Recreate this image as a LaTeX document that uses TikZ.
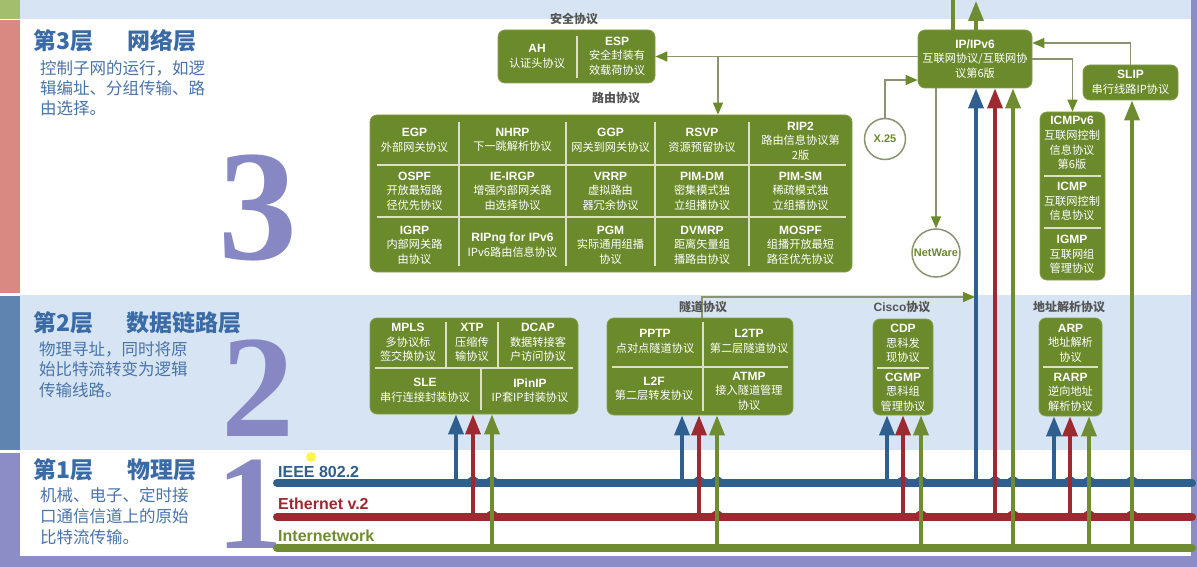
\documentclass[tikz,border=0pt]{standalone}
\usepackage{fontspec}
\setmainfont{Noto Sans CJK SC}
\newfontfamily\lat{Liberation Sans}
\newfontfamily\numfont{Liberation Serif}
\usetikzlibrary{arrows.meta}
\definecolor{boxg}{HTML}{6B8A2C}
\definecolor{boxe}{HTML}{86A04A}
\definecolor{lineb}{HTML}{2F5F8F}
\definecolor{liner}{HTML}{9E2A31}
\definecolor{lineg}{HTML}{6F8C32}
\definecolor{conn}{HTML}{8A9470}
\definecolor{band}{HTML}{D6E4F3}
\definecolor{ttl}{HTML}{3A6BA7}
\definecolor{dsc}{HTML}{4874AC}
\definecolor{numc}{HTML}{8787C4}
\definecolor{divc}{HTML}{DCE0C6}
\definecolor{barg}{HTML}{A3BF6E}
\definecolor{barr}{HTML}{D98882}
\definecolor{barb}{HTML}{5F84B0}
\definecolor{barp}{HTML}{8C8CC6}
\definecolor{lblc}{HTML}{555555}
\newcommand\nm[1]{{\lat\bfseries\fontsize{12}{14.6}\selectfont #1}}
\begin{document}
\begin{tikzpicture}[x=1pt,y=-1pt,
  gbox/.style={fill=boxg, draw=boxe, line width=0.8pt, rounded corners=7pt, inner sep=0pt},
  dv/.style={draw=divc, line width=1.1pt},
  bt/.style={text=white, align=center, inner sep=0pt, font=\fontsize{11.2}{14.6}\selectfont},
  ttlst/.style={text=ttl, anchor=west, inner sep=0pt, font=\bfseries\fontsize{23}{26}\selectfont},
  dsst/.style={text=dsc, anchor=west, inner sep=0pt, font=\fontsize{16.5}{20}\selectfont},
  numst/.style={text=numc, inner sep=0pt},
  lbl/.style={text=lblc, inner sep=0pt, font=\bfseries\fontsize{12}{14}\selectfont},
  phys/.style={anchor=west, inner sep=0pt, font=\lat\bfseries\fontsize{16}{18}\selectfont},
  hline/.style={line width=8pt, line cap=round},
  conn/.style={draw=conn, line width=1.5pt, -{Triangle[width=10pt,length=12pt,color=boxg]}},
  vb/.style={draw=lineb, line width=3.5pt, -{Triangle[width=15pt,length=20pt]}},
  vr/.style={draw=liner, line width=3.5pt, -{Triangle[width=15pt,length=20pt]}},
  vg/.style={draw=lineg, line width=3.5pt, -{Triangle[width=15pt,length=20pt]}},
  vgplain/.style={draw=lineg, line width=3.5pt},
  circ/.style={circle, draw=conn, line width=1.5pt, fill=white, inner sep=0pt, text=boxg, font=\lat\bfseries\fontsize{11}{12}\selectfont}
]
\useasboundingbox (0,0) rectangle (1197,567);
% backgrounds
\fill[white] (0,0) rectangle (1197,567);
\fill[band] (20,0) rectangle (1191,19);
\fill[band] (20,295) rectangle (1191,450);
\fill[barg] (0,0) rectangle (20,19);
\fill[barr] (0,20) rectangle (20,293);
\fill[barb] (0,296) rectangle (20,450);
\fill[barp] (0,453) rectangle (20,567);
\fill[barp] (0,556) rectangle (1197,567);
\fill[barp] (1191,0) rectangle (1197,567);
\fill[yellow!70!white] (311,457) circle (5);

% layer texts
\node[ttlst] (t3a) at (33,41) {第3层};
\node[ttlst] (t3b) at (127,41) {网络层};
\node[dsst] (d31) at (40,68) {控制子网的运行，如逻};
\node[dsst] (d32) at (40,88) {辑编址、分组传输、路};
\node[dsst] (d33) at (40,108) {由选择。};
\node[ttlst] (t2a) at (33,323) {第2层};
\node[ttlst] (t2b) at (126,323) {数据链路层};
\node[dsst] (d21) at (39,349) {物理寻址，同时将原};
\node[dsst] (d22) at (39,369.5) {始比特流转变为逻辑};
\node[dsst] (d23) at (39,390) {传输线路。};
\node[ttlst] (t1a) at (33,470) {第1层};
\node[ttlst] (t1b) at (127,470) {物理层};
\node[dsst] (d11) at (40,495) {机械、电子、定时接};
\node[dsst] (d12) at (40,516) {口通信信道上的原始};
\node[dsst] (d13) at (40,537) {比特流传输。};

\node[numst, font=\numfont\bfseries\fontsize{158}{158}\selectfont] (n3) at (258,208) {3};
\node[numst, font=\numfont\bfseries\fontsize{146}{146}\selectfont] (n2) at (258,388) {2};
\node[numst, font=\numfont\bfseries\fontsize{134}{134}\selectfont] (n1) at (250,504) {1};

% group labels
\node[lbl] (lsec) at (574,19) {安全协议};
\node[lbl] (lroute) at (616,98) {路由协议};
\node[lbl] (lcisco) at (902,307) {{\lat\bfseries Cisco}协议};
\node[lbl] (larp) at (1069,307) {地址解析协议};

% boxes
\node[gbox, minimum width=157pt, minimum height=53pt] (sec) at (576.5,56.5) {};
\node[gbox, minimum width=482pt, minimum height=157pt] (route) at (611,193.5) {};
\node[gbox, minimum width=114pt, minimum height=58pt] (ip) at (975,59) {};
\node[gbox, minimum width=95pt, minimum height=35pt] (slip) at (1130.5,82.5) {};
\node[gbox, minimum width=65pt, minimum height=168pt] (icmp) at (1072.5,196) {};
\node[gbox, minimum width=208pt, minimum height=96pt] (mpls) at (474,366) {};
\node[gbox, minimum width=186pt, minimum height=97pt] (tun) at (700,366.5) {};
\node[gbox, minimum width=60pt, minimum height=96pt] (cisco) at (903,367) {};
\node[gbox, minimum width=63pt, minimum height=98pt] (arp) at (1070.5,367) {};
\node[circ, minimum size=41pt] (x25) at (885,139) {X.25};
\node[circ, minimum size=48pt] (netw) at (936,253) {NetWare};

% dividers
\draw[dv] (577,36) -- (577,78);
\draw[dv] (377,165) -- (846,165);
\draw[dv] (377,217) -- (846,217);
\foreach \x in {459,566,655,749} \draw[dv] (\x,122) -- (\x,266);
\draw[dv] (1044,176) -- (1101,176);
\draw[dv] (1044,228) -- (1101,228);
\draw[dv] (375,368) -- (573,368);
\draw[dv] (446,322) -- (446,368);
\draw[dv] (498,322) -- (498,368);
\draw[dv] (481,368) -- (481,410);
\draw[dv] (612,367) -- (788,367);
\draw[dv] (703,322) -- (703,411);
\draw[dv] (877,368) -- (929,368);
\draw[dv] (1043,367) -- (1098,367);

% box texts
\node[bt] (tah) at (537,56.5) {\nm{AH}\\认证头协议};
\node[bt] (tesp) at (617,56) {\nm{ESP}\\安全封装有\\效载荷协议};
\node[bt] (tip) at (975,59) {\nm{IP/IPv6}\\互联网协议/互联网协\\议第6版};
\node[bt] (tslip) at (1130.5,82) {\nm{SLIP}\\串行线路IP协议};
\node[bt] (ticmp6) at (1072,143) {\nm{ICMPv6}\\互联网控制\\信息协议\\第6版};
\node[bt] (ticmp) at (1072,201.5) {\nm{ICMP}\\互联网控制\\信息协议};
\node[bt] (tigmp) at (1072,254.5) {\nm{IGMP}\\互联网组\\管理协议};

\node[bt] (c11) at (414.5,140) {\nm{EGP}\\外部网关协议};
\node[bt] (c12) at (512.5,140) {\nm{NHRP}\\下一跳解析协议};
\node[bt] (c13) at (610.5,140) {\nm{GGP}\\网关到网关协议};
\node[bt] (c14) at (702,140) {\nm{RSVP}\\资源预留协议};
\node[bt] (c15) at (800.5,141) {\nm{RIP2}\\路由信息协议第\\2版};
\node[bt] (c21) at (414.5,191) {\nm{OSPF}\\开放最短路\\径优先协议};
\node[bt] (c22) at (512.5,191) {\nm{IE-IRGP}\\增强内部网关路\\由选择协议};
\node[bt] (c23) at (610.5,191) {\nm{VRRP}\\虚拟路由\\器冗余协议};
\node[bt] (c24) at (702,191) {\nm{PIM-DM}\\密集模式独\\立组播协议};
\node[bt] (c25) at (800.5,191) {\nm{PIM-SM}\\稀疏模式独\\立组播协议};
\node[bt] (c31) at (414.5,245) {\nm{IGRP}\\内部网关路\\由协议};
\node[bt] (c32) at (512.5,245) {\nm{RIPng for IPv6}\\IPv6路由信息协议};
\node[bt] (c33) at (610.5,245) {\nm{PGM}\\实际通用组播\\协议};
\node[bt] (c34) at (702,245) {\nm{DVMRP}\\距离矢量组\\播路由协议};
\node[bt] (c35) at (800.5,245) {\nm{MOSPF}\\组播开放最短\\路径优先协议};

\node[bt] (m1) at (408,342.5) {\nm{MPLS}\\多协议标\\签交换协议};
\node[bt] (m2) at (472,342.5) {\nm{XTP}\\压缩传\\输协议};
\node[bt] (m3) at (538,342.5) {\nm{DCAP}\\数据转接客\\户访问协议};
\node[bt] (m4) at (425,390.5) {\nm{SLE}\\串行连接封装协议};
\node[bt] (m5) at (530,390.5) {\nm{IPinIP}\\IP套IP封装协议};

\node[bt] (u1) at (655,341.5) {\nm{PPTP}\\点对点隧道协议};
\node[bt] (u2) at (749,341.5) {\nm{L2TP}\\第二层隧道协议};
\node[bt] (u3) at (654,389) {\nm{L2F}\\第二层转发协议};
\node[bt] (u4) at (749,391) {\nm{ATMP}\\接入隧道管理\\协议};

\node[bt] (k1) at (903,343.5) {\nm{CDP}\\思科发\\现协议};
\node[bt] (k2) at (903,392) {\nm{CGMP}\\思科组\\管理协议};
\node[bt] (a1) at (1070.5,343) {\nm{ARP}\\地址解析\\协议};
\node[bt] (a2) at (1070.5,392) {\nm{RARP}\\逆向地址\\解析协议};

% thin connectors
\draw[conn] (ip.west |- sec.east) -- (sec.east);
\draw[conn] (718,0 |- sec.east) -- (718,0 |- route.north);
\draw[conn] (x25.north) |- ([yshift=-21pt]ip.west);
\draw[conn] (ip.south -| netw.north) -- (netw.north);
\draw[conn] (ip.east) -| (icmp.north);
\draw[conn] (slip.north) |- ([yshift=16pt]ip.east);
\draw[conn] ([xshift=2pt]tun.north) |- (975,297);
\node[lbl] (ltun) at (703,307) {隧道协议};

% top lines above IP
\draw[vgplain] (953,0 |- ip.north) -- (953,0);
\draw[vg] (976,0 |- ip.north) -- (976,1);

% physical lines
\coordinate (bl) at (277,483); \coordinate (br) at (1192,483);
\coordinate (rl) at (277,517); \coordinate (rr) at (1192,517);
\coordinate (gl) at (277,548); \coordinate (gr) at (1192,548);
\draw[hline, lineb] (bl) -- (br);
\draw[hline, liner] (rl) -- (rr);
\draw[hline, lineg] (gl) -- (gr);
\node[phys, text=lineb] (pieee) at (278,472) {IEEE 802.2};
\node[phys, text=liner] (peth) at (278,504) {Ethernet v.2};
\node[phys, text=lineg] (pint) at (278,536) {Internetwork};

% hops
\foreach \x in {473,699,903,995,1070}
  \fill[lineb] (\x-6.5,483) arc[start angle=180,end angle=360,radius=6.5];
\foreach \x in {492,717,921,1013,1089,1132} {
  \fill[lineb] (\x-6.5,483) arc[start angle=180,end angle=360,radius=6.5];
  \fill[liner] (\x-6.5,517) arc[start angle=180,end angle=360,radius=6.5];
}

% coloured verticals
\foreach \x/\t in {456/mpls,682/tun,887/cisco,976/ip,1054/arp}
  \draw[vb] (\x,483) -- (\x,0 |- \t.south);
\foreach \x/\t in {473/mpls,699/tun,903/cisco,995/ip,1070/arp}
  \draw[vr] (\x,517) -- (\x,0 |- \t.south);
\foreach \x/\t in {492/mpls,717/tun,921/cisco,1013/ip,1089/arp,1132/slip}
  \draw[vg] (\x,548) -- (\x,0 |- \t.south);
\end{tikzpicture}
\end{document}
